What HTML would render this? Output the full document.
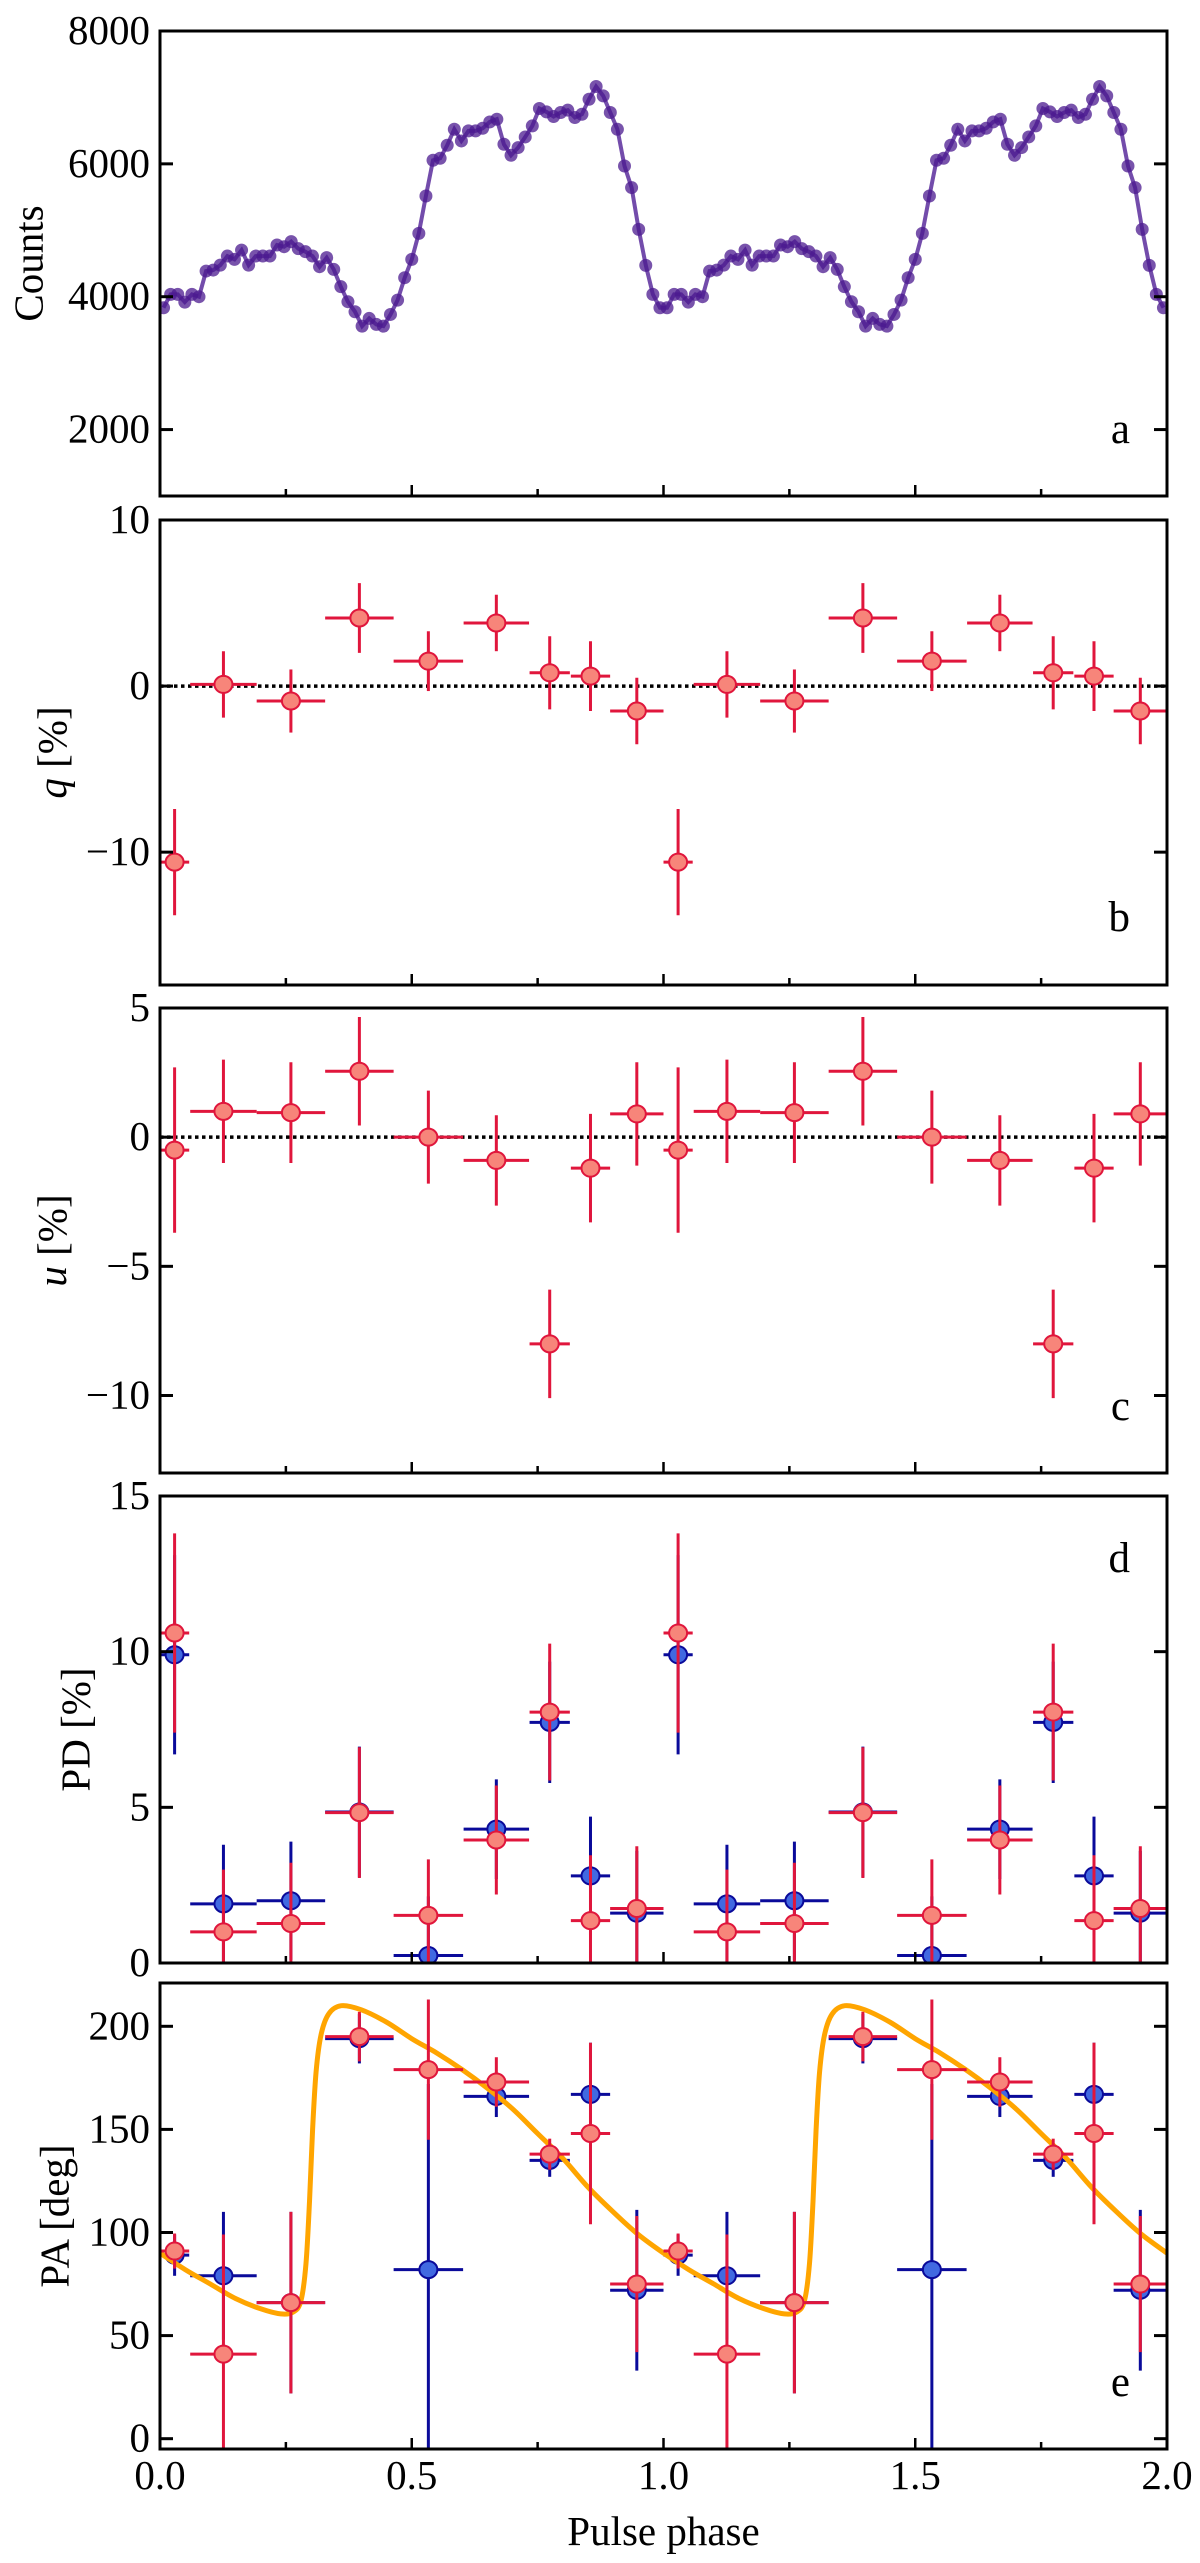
<!DOCTYPE html>
<html><head><meta charset="utf-8">
<style>
html,body{margin:0;padding:0;background:#fff;}
svg{display:block;font-family:"Liberation Serif","Times New Roman",serif;}
text{font-family:"Liberation Serif","Times New Roman",serif;fill:#000;}
</style></head>
<body>
<svg id="chart" width="1200" height="2563" viewBox="0 0 1200 2563" font-family="Liberation Serif, serif" xmlns="http://www.w3.org/2000/svg"></svg>
<script>
// ---------- data ----------
const lcCounts=[3834,4035,4035,3919,4035,4000,4386,4401,4476,4612,4562,4702,4476,4612,4612,4612,4778,4753,4829,4723,4678,4612,4452,4588,4411,4151,3925,3774,3557,3673,3583,3557,3733,3949,4286,4562,4954,5516,6054,6084,6280,6521,6345,6496,6496,6536,6631,6672,6295,6129,6245,6405,6571,6833,6782,6713,6773,6808,6698,6747,6973,7165,7023,6773,6521,5968,5643,5014,4472,4035,3834];
const binCenters=[0.029,0.126,0.260,0.396,0.533,0.668,0.774,0.855,0.947];
const binHalfWidths=[0.029,0.066,0.068,0.068,0.069,0.065,0.040,0.039,0.053];
const qVals=[-10.6,0.1,-0.9,4.1,1.5,3.8,0.8,0.6,-1.5];
const qErrs=[3.2,2.0,1.9,2.1,1.8,1.7,2.2,2.1,2.0];
const uVals=[-0.5,1.0,0.95,2.55,0.0,-0.9,-8.0,-1.2,0.9];
const uErrs=[3.2,2.0,1.95,2.1,1.8,1.75,2.1,2.1,2.0];
const pdRed=[10.6,1.0,1.27,4.83,1.53,3.95,8.06,1.36,1.75];
const pdRedErr=[3.2,2.0,1.95,2.1,1.8,1.75,2.2,2.1,2.0];
const pdBlue=[9.9,1.9,2.0,4.85,0.24,4.3,7.73,2.8,1.6];
const pdBlueErr=[3.2,1.9,1.9,2.1,1.9,1.6,1.95,1.9,2.0];
const paRed=[91,41,66,195,179,173,138,148,75];
const paRedErr=[8.5,58,44,12,34,12,7.5,44,33];
const paBlue=[89,79,66,194,82,166,135,167,72];
const paBlueErr=[10,31,44,12,90,10,8,25,39];
const modelPhase=[0,0.05,0.1,0.15,0.2,0.24,0.265,0.28,0.29,0.297,0.303,0.31,0.32,0.335,0.36,0.4,0.45,0.5,0.55,0.6,0.65,0.7,0.75,0.8,0.85,0.9,0.95,1.0];
const modelPA=[90,82,75,68,63,60.5,61.5,67,85,115,150,178,196,206,210,208,202,194,187,179,170,160,148,136,122,110,99,90];
const xTicks=[0.0,0.5,1.0,1.5,2.0];
const xTickLabels=["0.0","0.5","1.0","1.5","2.0"];

// ---------- layout ----------
const NS="http://www.w3.org/2000/svg";
const FONT='Liberation Serif, serif';
const svg=document.getElementById('chart');
const X0=160,X1=1167;
const sx=p=>X0+(p/2)*(X1-X0);
const panels={
 a:{top:31,bot:496,min:1000,max:8000,ticks:[2000,4000,6000,8000],labels:["2000","4000","6000","8000"],title:"Counts",tx:33,letter:"a",ly:443},
 b:{top:520,bot:985,min:-18,max:10,ticks:[-10,0,10],labels:["\u221210","0","10"],title:"q",tx:57,letter:"b",ly:931},
 c:{top:1008,bot:1473,min:-13,max:5,ticks:[-10,-5,0,5],labels:["\u221210","\u22125","0","5"],title:"u",tx:57,letter:"c",ly:1420},
 d:{top:1496,bot:1963,min:0,max:15,ticks:[0,5,10,15],labels:["0","5","10","15"],title:"PD [%]",tx:80,letter:"d",ly:1572},
 e:{top:1983,bot:2449,min:-5,max:221,ticks:[0,50,100,150,200],labels:["0","50","100","150","200"],title:"PA [deg]",tx:59,letter:"e",ly:2396}
};
function mk(tag,attrs,parent){const e=document.createElementNS(NS,tag);for(const k in attrs)e.setAttribute(k,attrs[k]);if(tag==='text')e.setAttribute('font-family',FONT);(parent||svg).appendChild(e);return e;}
function syF(P){return v=>P.bot-(v-P.min)/(P.max-P.min)*(P.bot-P.top);}

const defs=mk('defs',{});
for(const k in panels){const P=panels[k];const cp=mk('clipPath',{id:'clip-'+k},defs);mk('rect',{x:X0,y:P.top,width:X1-X0,height:P.bot-P.top},cp);}

function drawErr(g,k,vals,errs,line,fill,edge,name){
 const P=panels[k],sy=syF(P);
 for(let cyc=0;cyc<2;cyc++){
  for(let i=0;i<vals.length;i++){
   const p=binCenters[i]+cyc, hw=binHalfWidths[i];
   const gg=mk('g',{},g);
   
   
   mk('line',{x1:sx(p-hw),x2:sx(p+hw),y1:sy(vals[i]),y2:sy(vals[i]),stroke:line,'stroke-width':3},gg);
   mk('line',{x1:sx(p),x2:sx(p),y1:sy(vals[i]+errs[i]),y2:sy(vals[i]-errs[i]),stroke:line,'stroke-width':3},gg);
   mk('ellipse',{cx:sx(p),cy:sy(vals[i]),rx:9,ry:8.5,fill:fill,stroke:edge,'stroke-width':2},gg);
  }
 }
}

for(const k in panels){
 const P=panels[k],sy=syF(P);
 const g=mk('g',{});
 
 
 const plot=mk('g',{'clip-path':'url(#clip-'+k+')'},g);
 
 
 if(k==='b'||k==='c'){
  const zl=mk('line',{x1:X0,x2:X1,y1:sy(0),y2:sy(0),stroke:'#000','stroke-width':3.5,'stroke-dasharray':'3.5,3.5'},plot);
  
  
 }
 if(k==='a'){
  let d='';const N=lcCounts.length;
  const pts=[];
  for(let cyc=0;cyc<2;cyc++)for(let i=0;i<N;i++)pts.push([sx((i+0.5)/N+cyc),sy(lcCounts[i])]);
  pts.forEach((q,j)=>{d+=(j?'L':'M')+q[0].toFixed(1)+','+q[1].toFixed(1);});
  const pl=mk('path',{d:d,fill:'none',stroke:'#5a2d9c','stroke-width':4,'stroke-opacity':0.85},plot);
  
  
  pts.forEach(q=>{const c=mk('circle',{cx:q[0],cy:q[1],r:6.5,fill:'#4b1a8f','fill-opacity':0.75},plot);
   
   });
 }
 if(k==='b')drawErr(plot,'b',qVals,qErrs,'#e0163c','#f7857a','#e0163c','q');
 if(k==='c')drawErr(plot,'c',uVals,uErrs,'#e0163c','#f7857a','#e0163c','u');
 if(k==='d'){drawErr(plot,'d',pdBlue,pdBlueErr,'#0a0a9a','#4169e1','#0a0a9a','pd-blue');drawErr(plot,'d',pdRed,pdRedErr,'#e0163c','#f7857a','#e0163c','pd-red');}
 if(k==='e'){
  let pts=[];
  for(let cyc=0;cyc<2;cyc++)for(let i=0;i<modelPhase.length;i++){if(cyc===1&&i===0)continue;pts.push([sx(modelPhase[i]+cyc),sy(modelPA[i])]);}
  let d='M'+pts[0][0]+','+pts[0][1];
  for(let i=0;i<pts.length-1;i++){
   const p0=pts[Math.max(i-1,0)],p1=pts[i],p2=pts[i+1],p3=pts[Math.min(i+2,pts.length-1)];
   const c1=[p1[0]+(p2[0]-p0[0])/6,p1[1]+(p2[1]-p0[1])/6],c2=[p2[0]-(p3[0]-p1[0])/6,p2[1]-(p3[1]-p1[1])/6];
   d+='C'+c1[0].toFixed(1)+','+c1[1].toFixed(1)+' '+c2[0].toFixed(1)+','+c2[1].toFixed(1)+' '+p2[0].toFixed(1)+','+p2[1].toFixed(1);
  }
  drawErr(plot,'e',paBlue,paBlueErr,'#0a0a9a','#4169e1','#0a0a9a','pa-blue');
  const m=mk('path',{d:d,fill:'none',stroke:'#ffa500','stroke-width':5},plot);
  
  
  drawErr(plot,'e',paRed,paRedErr,'#e0163c','#f7857a','#e0163c','pa-red');
 }
 const fr=mk('rect',{x:X0,y:P.top,width:X1-X0,height:P.bot-P.top,fill:'none',stroke:'#000','stroke-width':3},g);
 
 
 P.ticks.forEach((t,i)=>{
  const y=sy(t);
  mk('line',{x1:X0,x2:X0+13,y1:y,y2:y,stroke:'#000','stroke-width':3},g);
  mk('line',{x1:X1-13,x2:X1,y1:y,y2:y,stroke:'#000','stroke-width':3},g);
  const tl=mk('text',{x:150,y:y+13,'text-anchor':'end','font-size':41},g);
  tl.textContent=P.labels[i];
  
  
 });
 for(let j=1;j<8;j++){
  const x=sx(j*0.25);const L=(j%2===0)?11:7;
  mk('line',{x1:x,x2:x,y1:P.bot,y2:P.bot-L,stroke:'#000','stroke-width':2.5},g);
 }
 const cy=(P.top+P.bot)/2;
 const tt=mk('text',{x:P.tx,y:cy,'text-anchor':'middle','font-size':41,transform:'rotate(-90 '+P.tx+' '+cy+')','dominant-baseline':'middle'},g);
 if(k==='b'||k==='c'){
  const ts=mk('tspan',{'font-style':'italic'},tt);ts.textContent=P.title;
  const ts2=mk('tspan',{},tt);ts2.textContent=' [%]';
 } else tt.textContent=P.title;
 
 
 const lt=mk('text',{x:1130,y:P.ly,'text-anchor':'end','font-size':43},g);
 lt.textContent=P.letter;
 
 
}
xTicks.forEach((t,i)=>{
 const tl=mk('text',{x:sx(t),y:2489,'text-anchor':'middle','font-size':41});
 tl.textContent=xTickLabels[i];
 
 
});
const xt=mk('text',{x:(X0+X1)/2,y:2545,'text-anchor':'middle','font-size':41});
xt.textContent='Pulse phase';


</script>
</body></html>
